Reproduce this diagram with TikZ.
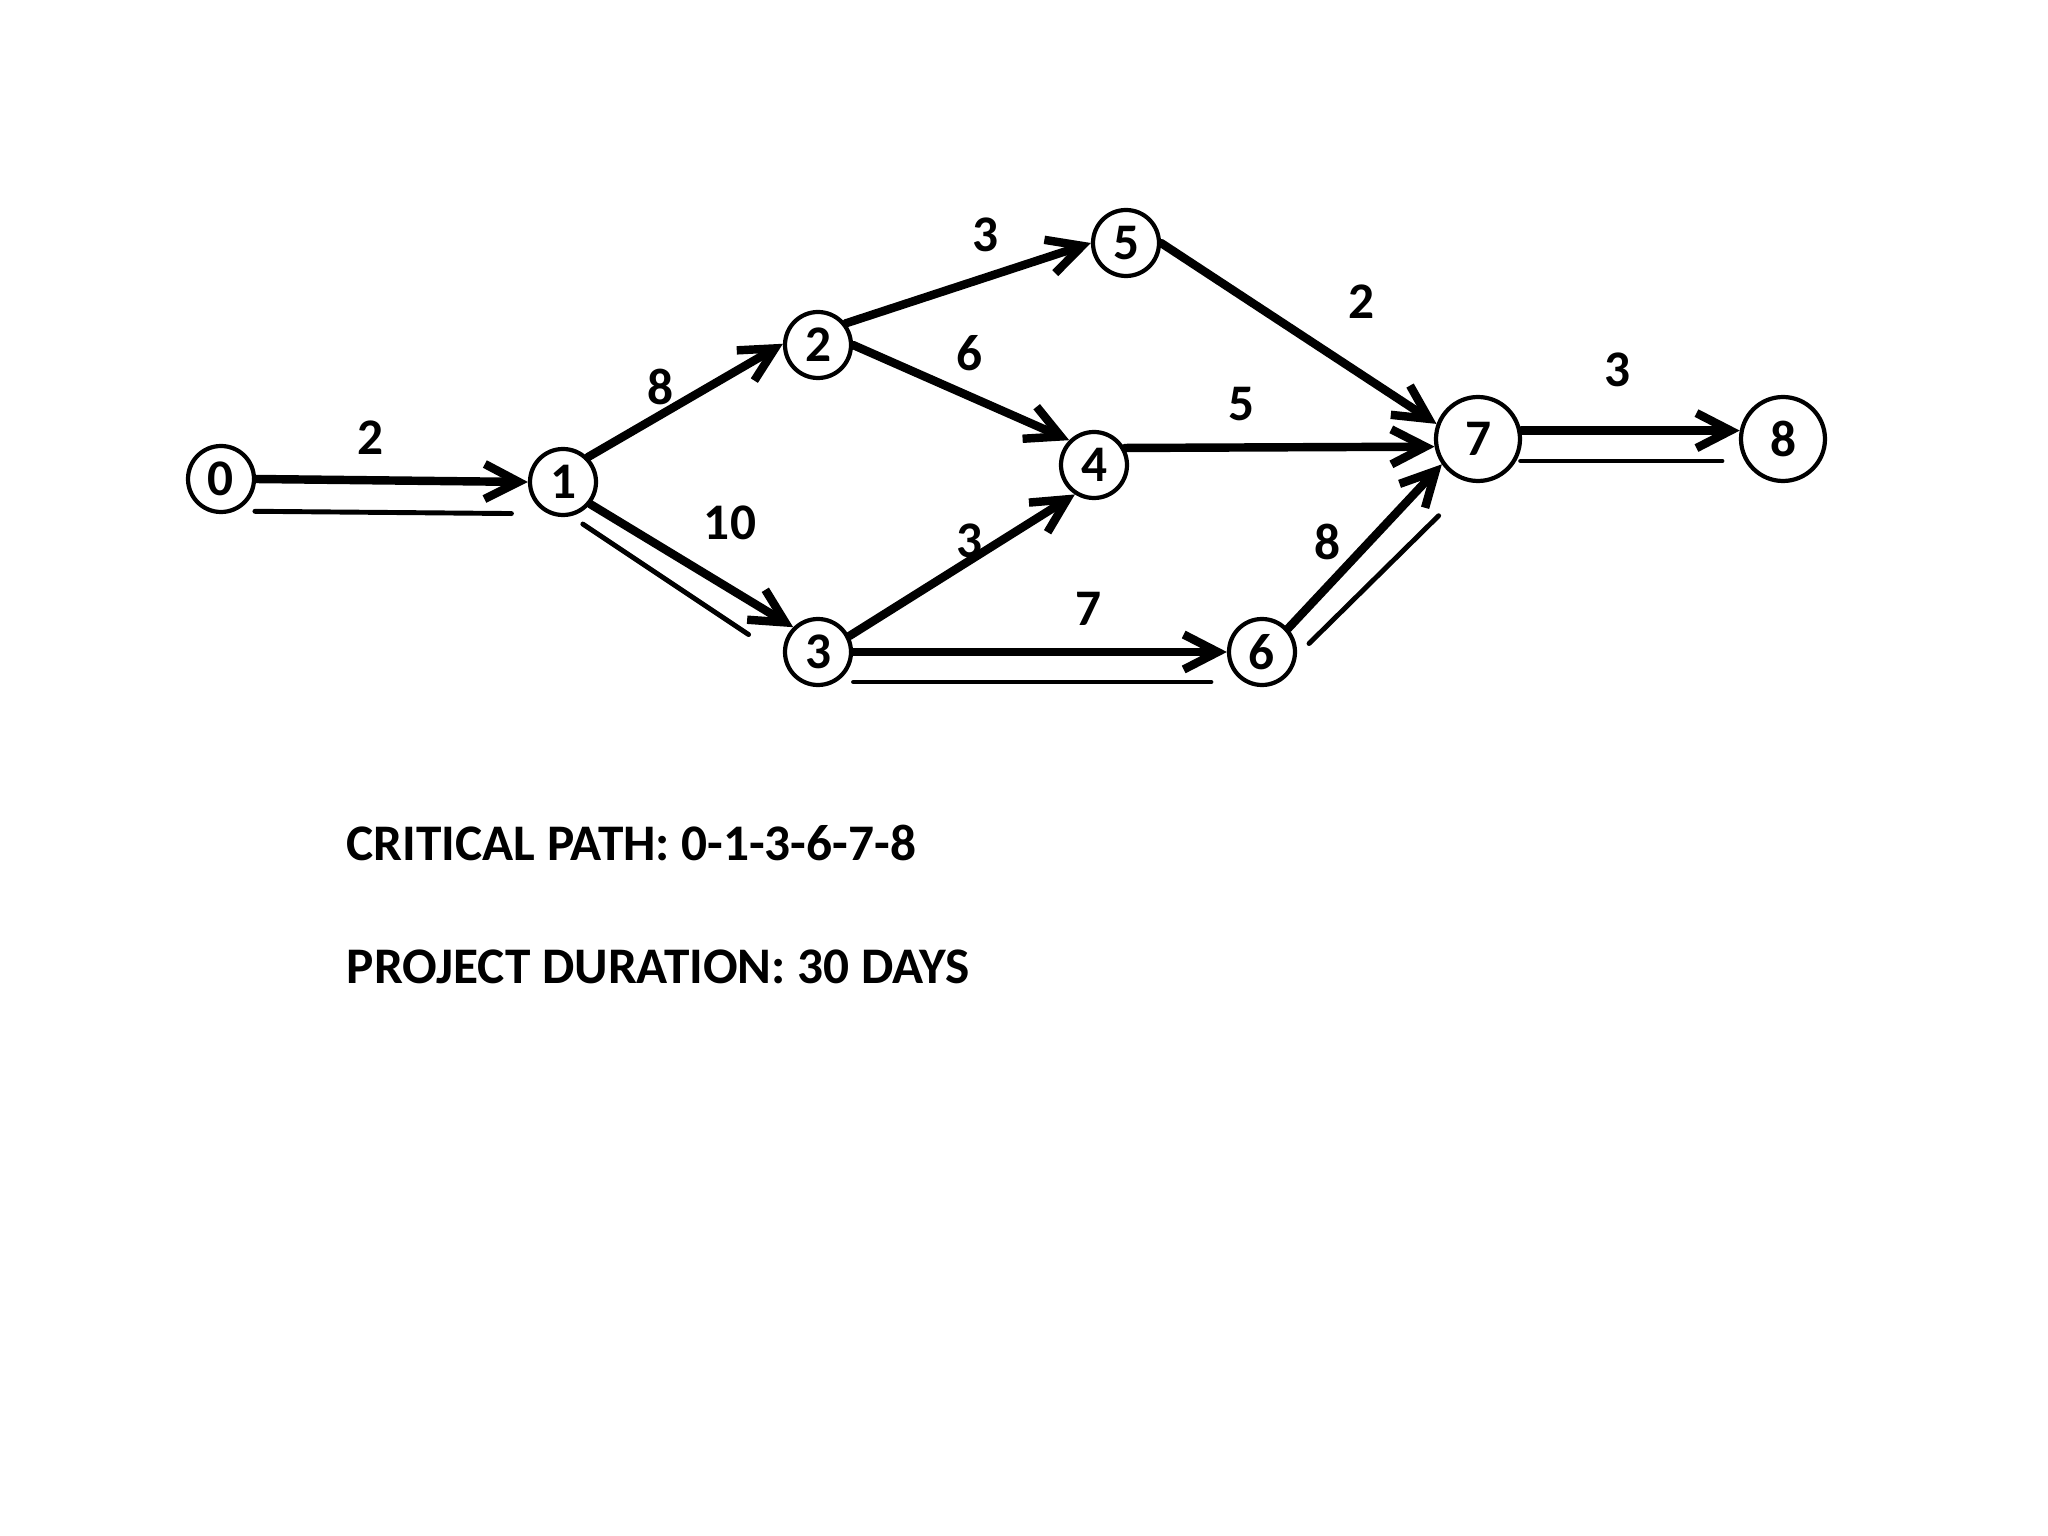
\documentclass[tikz,border=0pt]{standalone}
\usepackage{fontspec}
\setmainfont{Carlito}
\usetikzlibrary{arrows.meta,calc}
\begin{document}
\begin{tikzpicture}[font=\fontsize{14.6}{17}\selectfont\bfseries, line join=round,line cap=round,
	>={Straight Barb[length=3.4mm,width=3.5mm]},
	ev/.style={circle,draw,line width=1.2pt,inner sep=0pt,minimum size=6.6mm},
	evbig/.style={ev,minimum size=8.4mm},
	act/.style={->,line width=2.4pt},
	crit/.style={line width=1.4pt}]
	\fill[white] (0,0) rectangle (20.48,-15.36);
	\useasboundingbox (0,0) rectangle (20.48,-15.36);
	\foreach \i/\x/\y in {0/2.21/4.79,1/5.63/4.82,2/8.18/3.45,3/8.18/6.52,4/10.94/4.65,5/11.26/2.43,6/12.62/6.52}
	\node[ev] (n\i) at (\x,-\y) {\i};
	\node[evbig] (n7) at (14.78,-4.39) {7};
	\node[evbig] (n8) at (17.83,-4.39) {8};
	\foreach \a/\sa/\b/\sb in {0/east/1/west,1/45/2/178,1/-39/3/135,2/38/5/west,2/east/4/135,3/27/4/237,3/east/6/west,5/east/7/160,4/29/7/190,6/42/7/215,7/11/8/169}
	\draw[act] (n\a.\sa)--(n\b.\sb);
	\foreach \k/\t/\x/\y in {01/2/3.71/4.38,12/8/6.61/3.87,13/10/7.30/5.23,25/3/9.85/2.35,24/6/9.69/3.53,57/2/13.61/3.02,47/5/12.41/4.04,34/3/9.69/5.41,36/7/10.88/6.09,67/8/13.27/5.42,78/3/16.17/3.70}
	\node (w\k) at (\x,-\y) {\t};
	\foreach \a/\b/\ps/\pe/\off in {0/1/.10/.85/3.2mm,1/3/.13/.78/2.4mm,3/6/.08/.885/3mm,6/7/.13/.73/2.7mm,7/8/.14/.80/2.2mm}
	\draw[crit] ($(n\a)!\ps!(n\b)!\off!-90:(n\b)$)--($(n\a)!\pe!(n\b)!\off!-90:(n\b)$);
	\node[anchor=base west,inner sep=0pt] (cp) at (3.46,-8.60) {CRITICAL PATH: 0-1-3-6-7-8};
	\node[anchor=base west,inner sep=0pt] (pd) at (3.46,-9.83) {PROJECT DURATION: 30 DAYS};
\end{tikzpicture}
\end{document}
